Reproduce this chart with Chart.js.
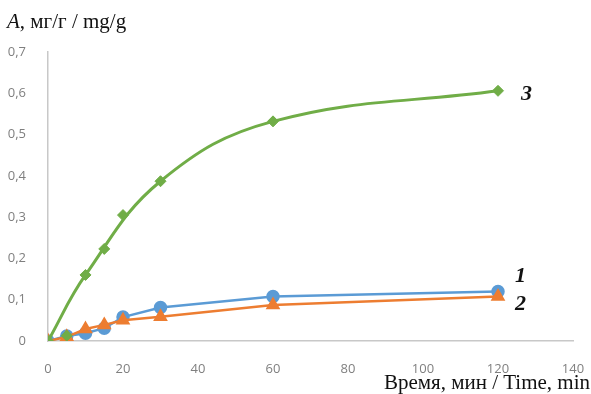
<!DOCTYPE html>
<html>
<head>
<meta charset="utf-8">
<script src="https://cdn.jsdelivr.net/npm/chart.js@4"></script>
<style>
  html, body { margin: 0; padding: 0; background: #fff; }
  #wrap { width: 591px; height: 394px; }
</style>
</head>
<body>
<div id="wrap"><canvas id="sorpChart" width="591" height="394"></canvas></div>
<script>
// время, мин
const timeX = [0, 5, 10, 15, 20, 30, 60, 120];
// сорбция, мг/г
const series1 = [0, 0.012, 0.019, 0.031, 0.058, 0.081, 0.108, 0.120];
const series2 = [0, 0.010, 0.029, 0.039, 0.050, 0.059, 0.087, 0.108];
const series3 = [0, 0.013, 0.160, 0.223, 0.305, 0.387, 0.532, 0.606];
// the green curve is a smoothed trend, drawn through a subset of the points
const trend3Idx = [0, 2, 5, 6, 7];
const seriesLabels = ['1', '2', '3'];
const xTicks = [0, 20, 40, 60, 80, 100, 120, 140];
const yTicks = [0, 0.1, 0.2, 0.3, 0.4, 0.5, 0.6, 0.7];

function pts(ys, idx) {
    const list = idx || ys.map((v, i) => i);
    return list.map(i => ({ x: timeX[i], y: ys[i] }));
}

const labelsPlugin = {
    id: 'labelsPlugin',
    afterDraw(chart) {
        const ctx = chart.ctx;
        ctx.save();
        ctx.fillStyle = '#111';
        ctx.textBaseline = 'alphabetic';
        // y title
        ctx.font = 'italic 21px "Liberation Serif"';
        ctx.textAlign = 'left';
        ctx.fillText('A', 7, 28);
        const w = ctx.measureText('A').width;
        ctx.font = '21px "Liberation Serif"';
        ctx.fillText(', мг/г / mg/g', 7 + w, 28);
        // x title
        ctx.textAlign = 'right';
        ctx.fillText('Время, мин / Time, min', 590, 389);
        // series numbers at last points
        ctx.font = 'italic bold 22px "Liberation Serif"';
        ctx.textAlign = 'left';
        const xs = chart.scales.x, ys = chart.scales.y;
        const last = timeX.length - 1;
        const px = xs.getPixelForValue(timeX[last]) + 17;
        ctx.fillText(seriesLabels[0], px, ys.getPixelForValue(series1[last]) - 9);
        ctx.fillText(seriesLabels[1], px, ys.getPixelForValue(series2[last]) + 14);
        ctx.fillText(seriesLabels[2], px + 6, ys.getPixelForValue(series3[last]) + 9);
        ctx.restore();
    }
};

const ctx = document.getElementById('sorpChart').getContext('2d');
new Chart(ctx, {
    type: 'scatter',
    data: {
        datasets: [
            {
                label: '1',
                data: pts(series1),
                showLine: true,
                borderColor: '#5b9bd5',
                backgroundColor: '#5b9bd5',
                borderWidth: 2.5,
                pointStyle: 'circle',
                pointRadius: 5.5,
                order: 3
            },
            {
                label: '2',
                data: pts(series2),
                showLine: true,
                borderColor: '#ed7d31',
                backgroundColor: '#ed7d31',
                borderWidth: 2.5,
                pointStyle: 'triangle',
                pointRadius: 6,
                order: 2
            },
            {
                label: '3',
                data: pts(series3),
                showLine: false,
                borderColor: '#70ad47',
                backgroundColor: '#70ad47',
                pointStyle: 'rectRot',
                pointRadius: 5.5,
                order: 1
            },
            {
                label: '3 trend',
                data: pts(series3, trend3Idx),
                showLine: true,
                tension: 0.4,
                borderColor: '#70ad47',
                borderWidth: 3,
                pointRadius: 0,
                order: 0
            }
        ]
    },
    options: {
        responsive: false,
        animation: false,
        layout: { padding: { top: 52, right: 18, left: 0, bottom: 0 } },
        plugins: {
            legend: { display: false },
            tooltip: { enabled: false }
        },
        scales: {
            x: {
                type: 'linear',
                min: 0,
                max: 140,
                afterBuildTicks: s => { s.ticks = xTicks.map(v => ({ value: v })); },
                afterFit: s => { s.height = 53; s.paddingRight = 0; s.paddingLeft = 0; },
                grid: { display: false },
                border: { display: true, color: '#c8c8c8', width: 1.5 },
                ticks: {
                    padding: 12,
                    color: '#7f7f7f',
                    font: { family: '"Open Sans"', size: 13 }
                }
            },
            y: {
                min: 0,
                max: 0.7,
                afterBuildTicks: s => { s.ticks = yTicks.map(v => ({ value: v })); },
                afterFit: s => { s.width = 48; s.paddingTop = 0; s.paddingBottom = 0; },
                grid: { display: false },
                border: { display: true, color: '#c8c8c8', width: 1.5 },
                ticks: {
                    padding: 14,
                    color: '#7f7f7f',
                    font: { family: '"Open Sans"', size: 13 },
                    callback: v => v === 0 ? '0' : v.toFixed(1).replace('.', ',')
                }
            }
        }
    },
    plugins: [labelsPlugin]
});
</script>
</body>
</html>
